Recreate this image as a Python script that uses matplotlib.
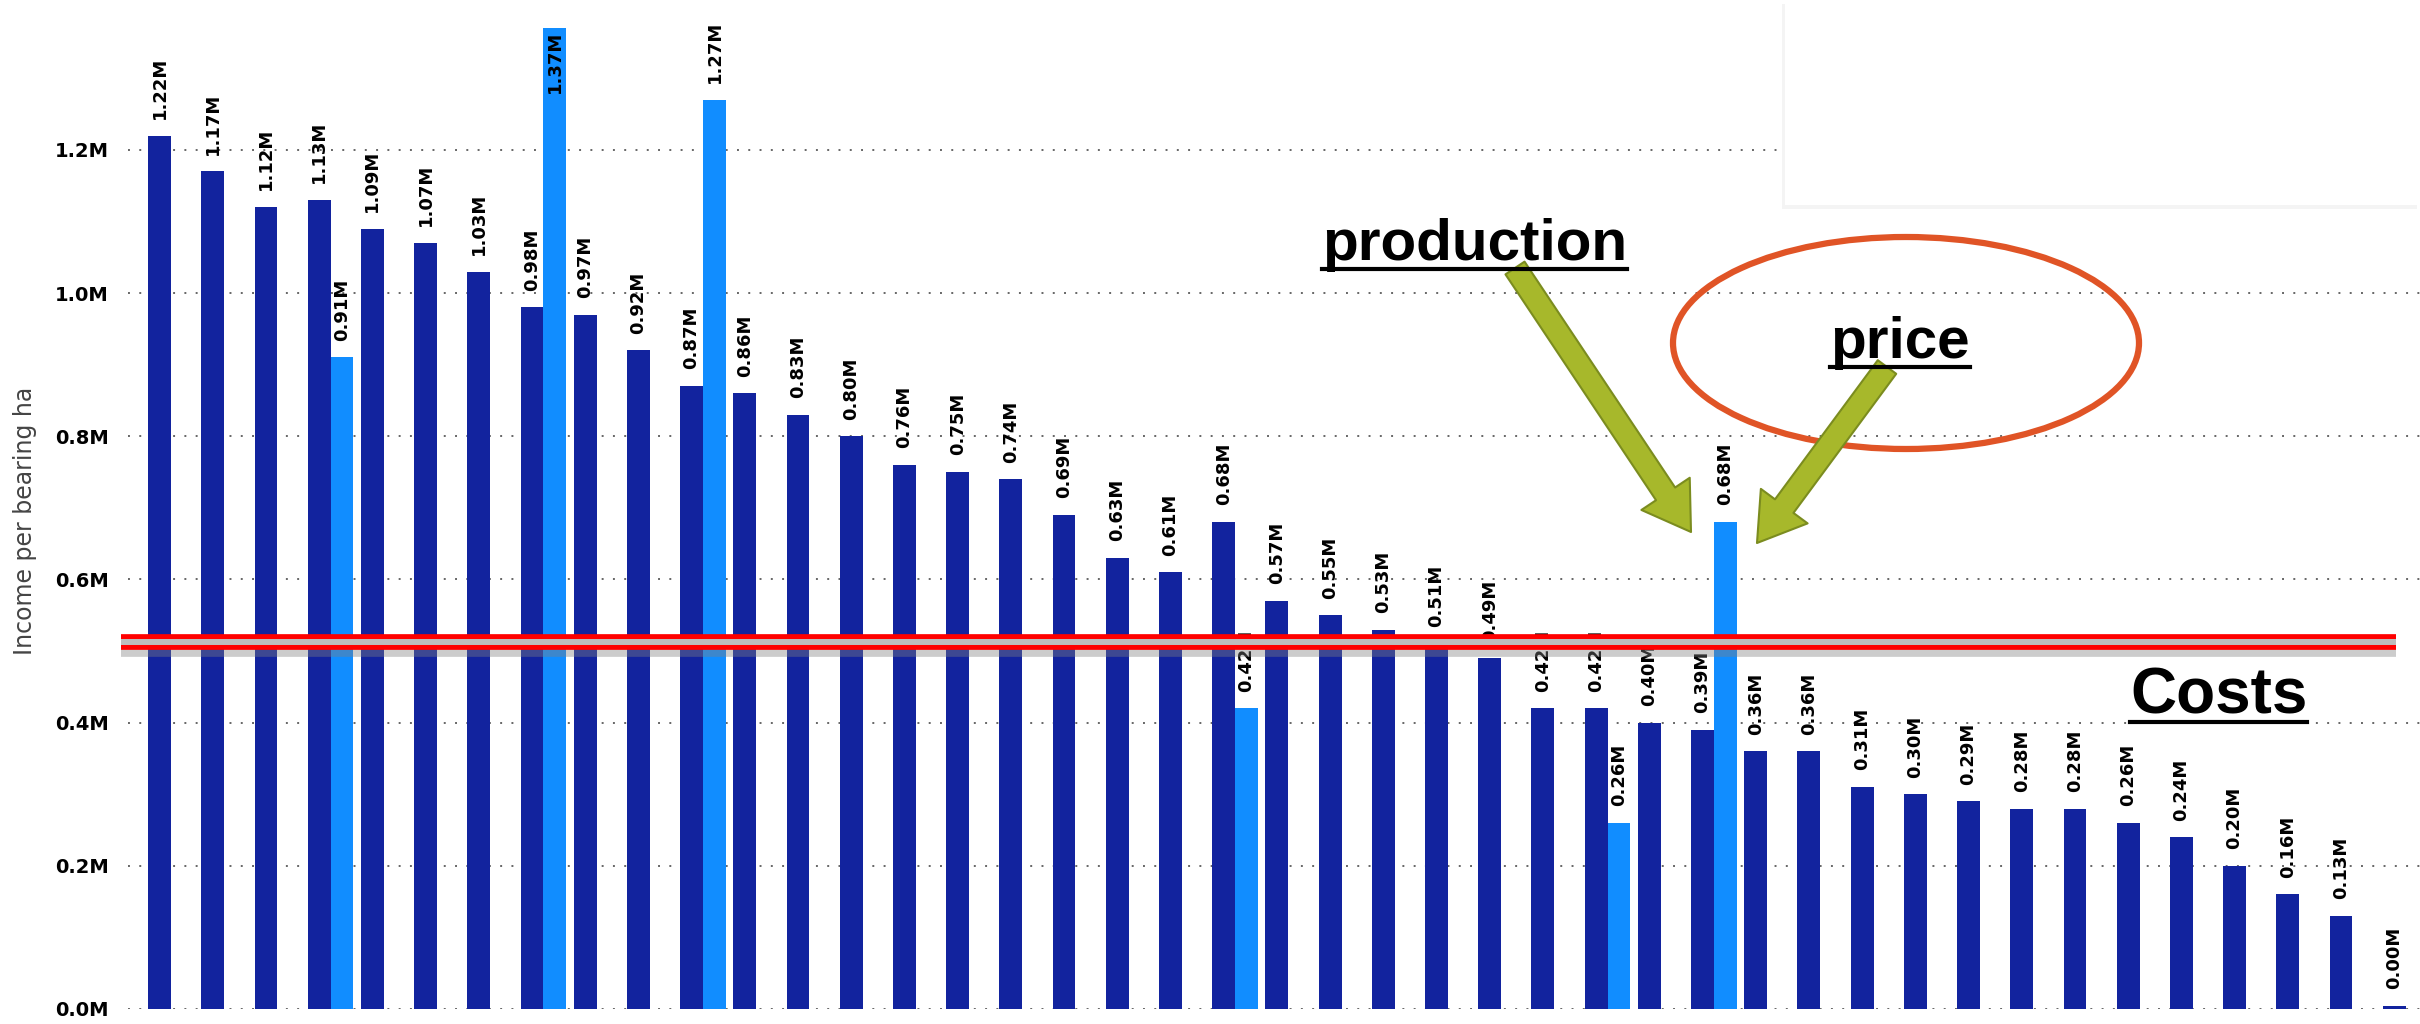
import numpy as np
import matplotlib
matplotlib.use("Agg")
import matplotlib.pyplot as plt
from matplotlib.patches import Ellipse, FancyArrowPatch, Rectangle
from matplotlib.lines import Line2D
import matplotlib.patheffects as pe

# income per bearing ha (millions), sorted as in the report
income = [1.22, 1.17, 1.12, 1.13, 1.09, 1.07, 1.03, 0.98, 0.97, 0.92,
          0.87, 0.86, 0.83, 0.80, 0.76, 0.75, 0.74, 0.69, 0.63, 0.61,
          0.68, 0.57, 0.55, 0.53, 0.51, 0.49, 0.42, 0.42, 0.40, 0.39,
          0.36, 0.36, 0.31, 0.30, 0.29, 0.28, 0.28, 0.26, 0.24, 0.20,
          0.16, 0.13, 0.004]
# second series, only present for a few farms
second_idx = [3, 7, 10, 20, 27, 29]
second_vals = [0.91, 1.37, 1.27, 0.42, 0.26, 0.68]
costs = 0.513
yticks = [0.0, 0.2, 0.4, 0.6, 0.8, 1.0, 1.2]

W, H = 2420, 1024
fig = plt.figure(figsize=(W / 100, H / 100), dpi=100)

def fx(px):
    return px / W

def fy(py):
    # image pixel row -> figure fraction
    return 1 - py / H

ax = fig.add_axes([fx(128), fy(1009), 1 - fx(128), fy(21) - fy(1009)])
ax.set_ylim(0, 1.38)
ax.set_xlim(-0.808, 42.27)

bw = 0.43
x = np.arange(len(income))
ax.bar(x - bw / 2, income, width=bw, color="#12239E", zorder=3)
ax.bar(np.array(second_idx) + bw / 2, second_vals, width=bw,
       color="#118DFF", zorder=3)

def label_bars(xs, vals):
    for xi, v in zip(xs, vals):
        txt = f"{v:.2f}M"
        if v > 1.3:
            # no room above, put it inside the bar
            ax.annotate(txt, (xi, v), xytext=(0, -2), textcoords="offset points",
                        rotation=90, ha="center", va="top", fontsize=13,
                        fontweight="bold", color="black", zorder=5)
        else:
            ax.annotate(txt, (xi, v), xytext=(0, 12), textcoords="offset points",
                        rotation=90, ha="center", va="bottom", fontsize=13,
                        fontweight="bold", color="black", zorder=5)

label_bars(x - bw / 2, income)
label_bars(np.array(second_idx) + bw / 2, second_vals)

ax.set_yticks(yticks)
ax.set_yticklabels([f"{t:.1f}M" for t in yticks], fontsize=14, fontweight="bold")
ax.tick_params(axis="y", length=0, pad=14)
ax.set_xticks([])
ax.yaxis.grid(True, linestyle=(0, (1, 4.8)), linewidth=1.4, color="#666666", zorder=0)
ax.set_axisbelow(True)
for s in ax.spines.values():
    s.set_visible(False)

fig.text(fx(25), fy(521), "Income per bearing ha", rotation=90, ha="center",
         va="center", fontsize=17, color="#444444")

# costs line: red double line with grey core and a soft shadow
x0 = (121 - 171) / 53.2
x1 = (2396 - 171) / 53.2
ax.plot([x0, x1], [costs, costs], color="red", lw=11.3, solid_capstyle="butt",
        clip_on=False, zorder=6,
        path_effects=[pe.SimpleLineShadow(offset=(0, -5), shadow_color="gray", alpha=0.4),
                      pe.Normal()])
ax.plot([x0, x1], [costs, costs], color="#bdbdbd", lw=4.3, solid_capstyle="butt",
        clip_on=False, zorder=7)

# white box covering the top right corner
box = Rectangle((fx(1785), fy(205)), 1 - fx(1785), fy(0) - fy(205),
                transform=fig.transFigure, facecolor="white", edgecolor="none",
                zorder=8, path_effects=[pe.SimplePatchShadow(offset=(-2, -3), alpha=0.06),
                                        pe.Normal()])
fig.patches.append(box)

# callouts
ell = Ellipse((fx(1906), fy(343)), 466 / W, 212 / H, transform=fig.transFigure,
              fill=False, edgecolor="#E05426", lw=4.5, zorder=9)
fig.patches.append(ell)

arrow_style = "simple,head_length=1.5,head_width=1.9,tail_width=0.75"
for (sx, sy), (tx, ty) in [((1515, 268), (1691, 532)), ((1887, 367), (1757, 543))]:
    a = FancyArrowPatch((fx(sx), fy(sy)), (fx(tx), fy(ty)), transform=fig.transFigure,
                        arrowstyle=arrow_style, mutation_scale=22, shrinkA=0, shrinkB=0,
                        facecolor="#A7B82B", edgecolor="#7B8C1F", lw=1.5, zorder=10)
    fig.patches.append(a)

font = ["Liberation Sans", "DejaVu Sans"]
texts = []
for s, px, py, size in [("production", 1322, 260, 42), ("price", 1830, 358, 42),
                        ("Costs", 2130, 713, 46)]:
    t = fig.text(fx(px), fy(py), s, ha="left", va="baseline", fontsize=size,
                 fontweight="bold", family=font, color="black", zorder=11)
    texts.append((t, py))

fig.canvas.draw()
r = fig.canvas.get_renderer()
for t, py in texts:
    bb = t.get_window_extent(r)
    fig.lines.append(Line2D([bb.x0 / W, bb.x1 / W], [fy(py + 9), fy(py + 9)],
                            transform=fig.transFigure, color="black", lw=3, zorder=11))

fig.savefig("out.png", dpi=100)
